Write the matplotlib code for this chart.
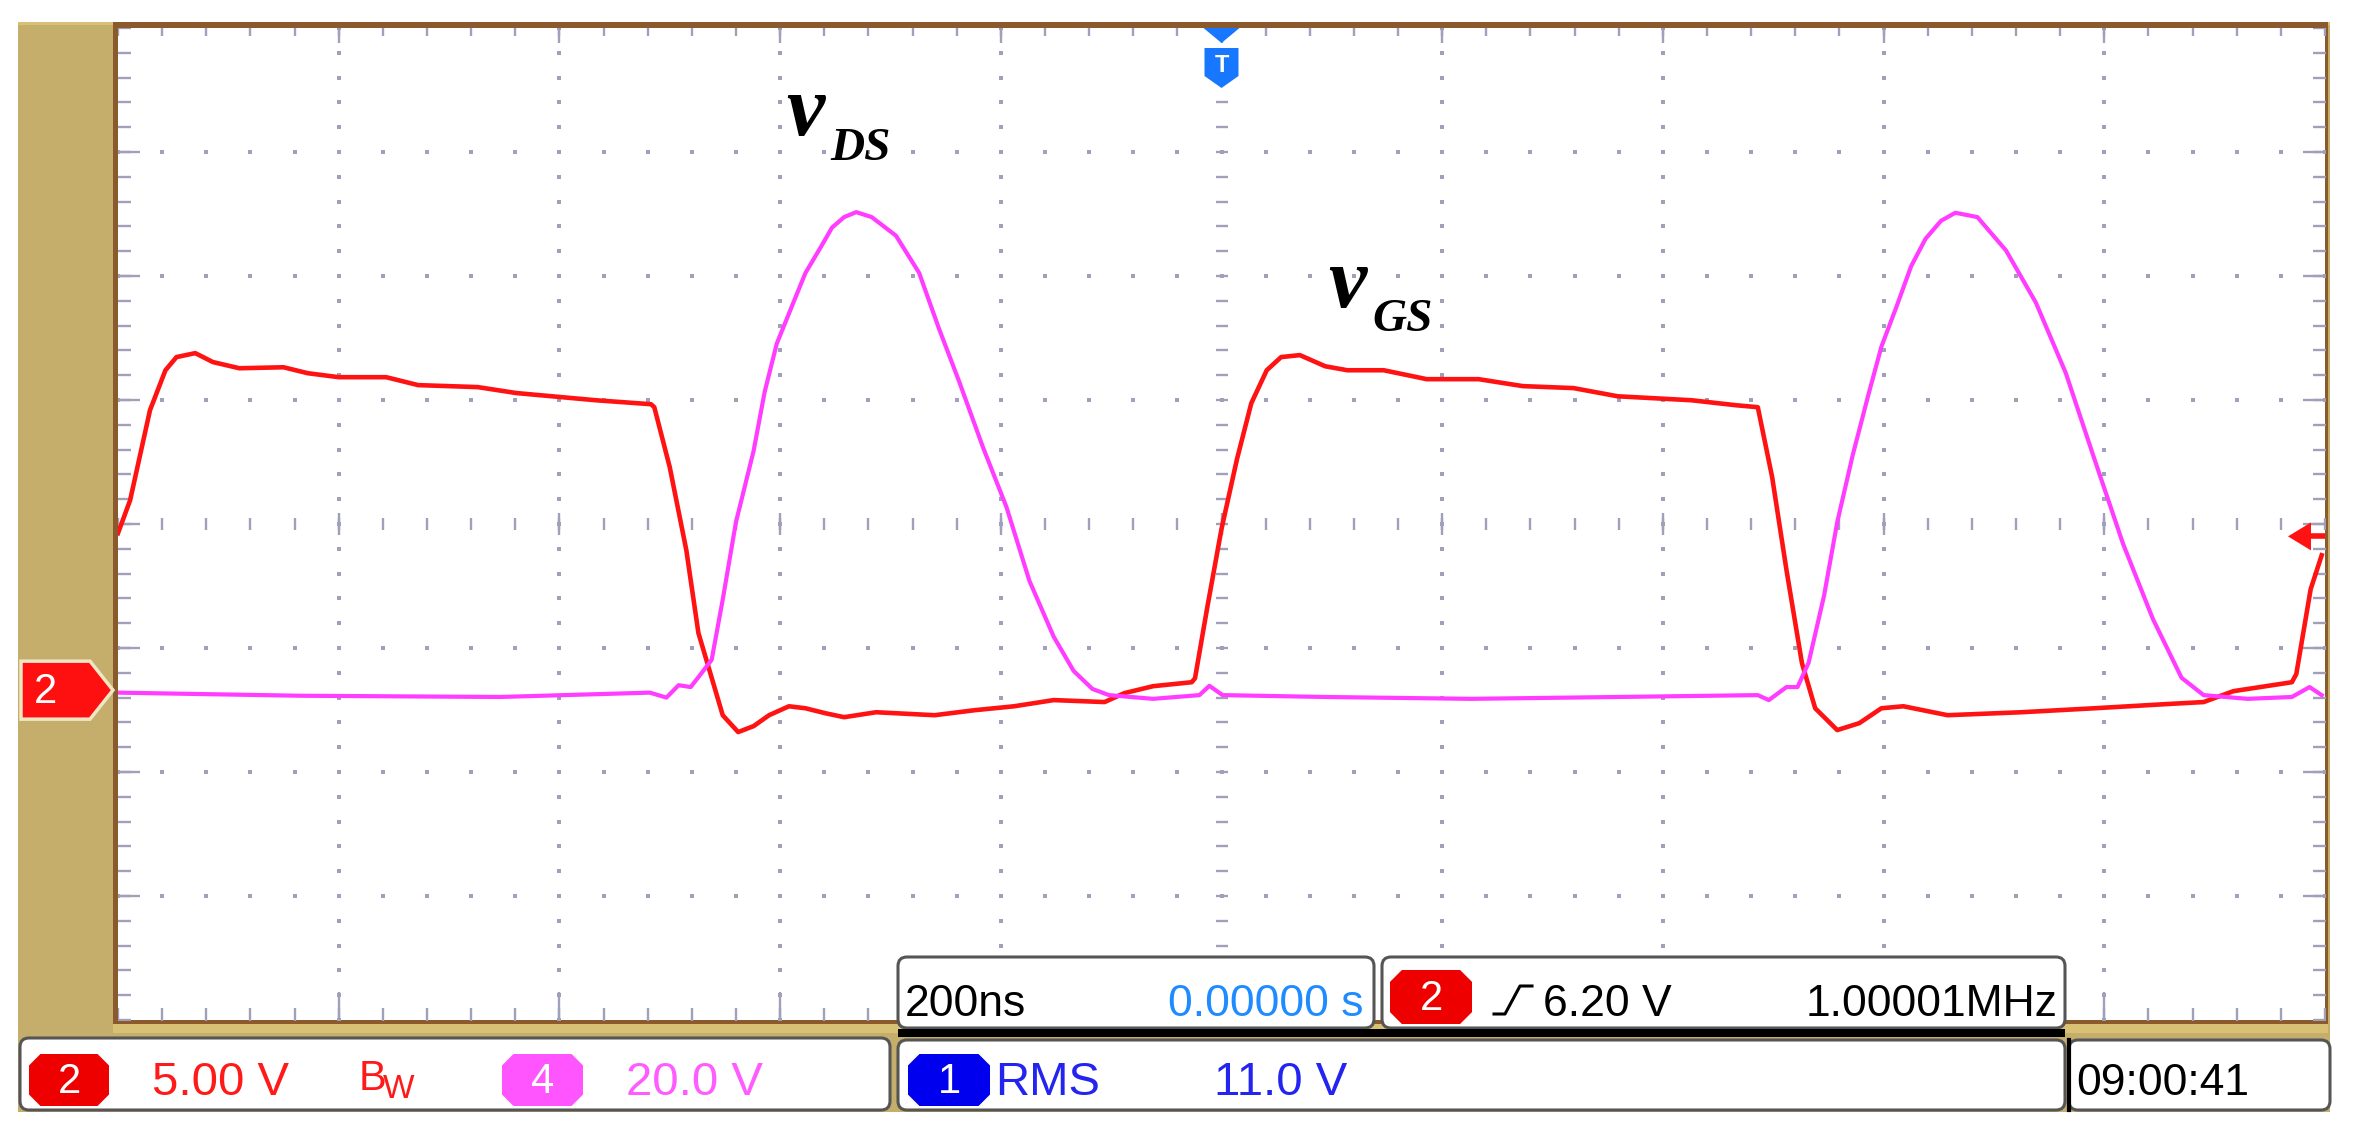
import numpy as np
import matplotlib
matplotlib.use("Agg")
import matplotlib.pyplot as plt
from matplotlib.patches import Rectangle, Polygon, FancyBboxPatch

# scope settings
time_div_ns = 200
ch2_volts_div = 5.0
ch4_volts_div = 20.0
ch2_ground_div = -1.34
ch4_ground_div = -1.37
trig_level_v = 6.2

# ch2 (red) gate-source voltage: time [ns], volts
vgs_t = [-1000, -989, -971, -957, -947, -930, -914, -890, -850, -828, -800, -757,
         -728, -674, -639, -567, -517, -514, -500, -485, -474, -463, -452, -438,
         -424, -410, -392, -377, -359, -342, -313, -260, -224, -188, -152, -106,
         -88, -62, -27, -24, -13, 0, 14, 27, 41, 54, 71, 94, 114, 147, 186, 233,
         273, 319, 359, 426, 466, 486, 499, 512, 526, 538, 558, 578, 598, 618,
         658, 725, 791, 857, 890, 917, 970, 974, 987, 997]
vgs_v = [6.33, 7.66, 11.29, 12.90, 13.43, 13.59, 13.23, 12.98, 13.02, 12.78, 12.62, 12.62,
         12.30, 12.22, 11.98, 11.69, 11.53, 11.41, 8.99, 5.65, 2.30, 0.65, -1.01, -1.69,
         -1.45, -1.01, -0.65, -0.73, -0.93, -1.09, -0.89, -1.01, -0.81, -0.65, -0.40, -0.48,
         -0.12, 0.16, 0.32, 0.48, 3.31, 6.50, 9.31, 11.57, 12.90, 13.43, 13.51, 13.06, 12.90,
         12.90, 12.54, 12.54, 12.26, 12.18, 11.85, 11.69, 11.49, 11.41, 8.59, 4.84, 1.09,
         -0.73, -1.61, -1.33, -0.73, -0.65, -1.01, -0.89, -0.73, -0.56, -0.48, -0.04, 0.32,
         0.65, 4.07, 5.44]

# ch4 (pink) drain-source voltage: time [ns], volts
vds_t = [-1000, -835, -654, -518, -503, -492, -481, -471, -462, -452, -440, -424,
         -414, -403, -388, -377, -363, -353, -342, -331, -317, -295, -274, -256,
         -238, -216, -195, -174, -152, -134, -117, -102, -62, -20, -11, 1, 94, 226,
         359, 486, 496, 512, 522, 532, 546, 558, 572, 586, 598, 612, 625, 638, 652,
         665, 685, 711, 738, 765, 791, 817, 844, 870, 890, 930, 970, 986, 997]
vds_v = [0.2, -0.3, -0.5, 0.2, -0.6, 1.4, 1.1, 3.4, 5.5, 15.2, 27.7, 39.2,
         48.7, 56.5, 63.1, 67.9, 72.1, 75.2, 76.9, 77.7, 76.9, 73.9, 67.9, 58.9,
         50.5, 39.7, 30.2, 18.2, 9.2, 3.7, 0.8, -0.2, -0.8, -0.2, 1.3, -0.2, -0.5, -0.8,
         -0.5, -0.2, -1.0, 1.1, 1.1, 5.0, 15.8, 27.7, 38.5, 48.1, 56.0, 62.6, 69.0, 73.4, 76.3,
         77.6, 76.9, 71.5, 63.1, 51.8, 37.9, 24.2, 12.1, 2.6, -0.2, -0.8, -0.5, 1.1, -0.2]

W, H = 2355, 1146
SX0, SX1, SY0, SY1 = 118, 2325, 28, 1020   # screen area in pixels

TAN = '#C5AD6B'
GOLD = '#D8C075'
BROWN = '#8A5A2C'
GRID = '#A0A0BA'
RED = '#FF1212'
PINK = '#FF3CFF'
BADGE_RED = '#EE0000'
BADGE_PINK = '#FF55FF'
BADGE_BLUE = '#0000EE'
FONT = ['Liberation Sans Narrow', 'Liberation Sans', 'DejaVu Sans']


def py(div):
    return SY0 + (4 - div) * (SY1 - SY0) / 8.0


def px(t):
    return SX0 + (t + 5 * time_div_ns) / (10 * time_div_ns) * (SX1 - SX0)


def badge(ax, x0, y0, x1, y1, color, label, size=26):
    c = 0.22 * (y1 - y0)
    pts = [(x0 + c, y0), (x1 - c, y0), (x1, y0 + c), (x1, y1 - c),
           (x1 - c, y1), (x0 + c, y1), (x0, y1 - c), (x0, y0 + c)]
    ax.add_patch(Polygon(pts, closed=True, fc=color, ec='none'))
    ax.text((x0 + x1) / 2, (y0 + y1) / 2 + 2, label, color='white', fontsize=size,
            ha='center', va='center', family=FONT)


def box(ax, x0, y0, x1, y1):
    ax.add_patch(FancyBboxPatch((x0, y0), x1 - x0, y1 - y0,
                                boxstyle='round,pad=0,rounding_size=9',
                                fc='white', ec='#555555', lw=2.2))


fig = plt.figure(figsize=(W / 100, H / 100), dpi=100)
fig.patch.set_facecolor('white')

# background / bezel
bg = fig.add_axes([0, 0, 1, 1])
bg.set_xlim(0, W)
bg.set_ylim(H, 0)
bg.axis('off')
bg.add_patch(Rectangle((18, 22), 2312, 1090, fc=TAN, ec='none'))
bg.add_patch(Rectangle((18, 22), 2312, 3, fc=GOLD, ec='none'))
bg.add_patch(Rectangle((SX0 - 5, SY0 - 6), SX1 - SX0 + 8, SY1 - SY0 + 10, fc=BROWN, ec='none'))
bg.add_patch(Rectangle((SX0, SY0), SX1 - SX0, SY1 - SY0, fc='white', ec='none'))
bg.add_patch(Rectangle((SX0 - 5, SY1 + 4), SX1 - SX0 + 8, 9, fc=GOLD, ec='none'))

# scope screen
scr = fig.add_axes([SX0 / W, 1 - SY1 / H, (SX1 - SX0) / W, (SY1 - SY0) / H])
scr.set_xlim(-5 * time_div_ns, 5 * time_div_ns)
scr.set_ylim(-4, 4)
scr.axis('off')

minor_x = np.arange(-5 * time_div_ns, 5 * time_div_ns + 1, time_div_ns / 5)
minor_y = np.round(np.arange(-4, 4.01, 0.2), 2)
major_x = np.arange(-4, 5) * time_div_ns
major_y = np.arange(-3, 4)

for xm in major_x:
    if xm != 0:
        scr.plot(np.full(len(minor_y), xm), minor_y, ls='none', marker='s',
                 ms=2.4, mew=0, color=GRID)
for ym in major_y:
    if ym != 0:
        scr.plot(minor_x, np.full(len(minor_x), ym), ls='none', marker='s',
                 ms=2.4, mew=0, color=GRID)
# centre axes
scr.plot(np.zeros(len(minor_y)), minor_y, ls='none', marker='_', ms=9, mew=1.7, color=GRID)
scr.plot(minor_x, np.zeros(len(minor_x)), ls='none', marker='|', ms=9, mew=1.7, color=GRID)
scr.plot(major_x, np.zeros(len(major_x)), ls='none', marker='|', ms=16, mew=1.7, color=GRID)
# border ticks
for xb in (-5 * time_div_ns, 5 * time_div_ns):
    scr.plot(np.full(len(minor_y), xb), minor_y, ls='none', marker='_', ms=18, mew=1.7, color=GRID)
    scr.plot(np.full(len(major_y), xb), major_y, ls='none', marker='_', ms=32, mew=1.7, color=GRID)
scr.plot(minor_x, np.full(len(minor_x), -4), ls='none', marker='|', ms=18, mew=1.7, color=GRID)
scr.plot(major_x, np.full(len(major_x), -4), ls='none', marker='|', ms=40, mew=1.7, color=GRID)
scr.plot(minor_x, np.full(len(minor_x), 4), ls='none', marker='|', ms=12, mew=1.7, color=GRID)
scr.plot(major_x, np.full(len(major_x), 4), ls='none', marker='|', ms=22, mew=1.7, color=GRID)

# traces
scr.plot(vgs_t, np.array(vgs_v) / ch2_volts_div + ch2_ground_div, color=RED, lw=3.3,
         solid_joinstyle='round', zorder=5)
scr.plot(vds_t, np.array(vds_v) / ch4_volts_div + ch4_ground_div, color=PINK, lw=3.0,
         solid_joinstyle='round', zorder=6)

# overlay: markers, labels, status bar
ov = fig.add_axes([0, 0, 1, 1], zorder=5)
ov.set_xlim(0, W)
ov.set_ylim(H, 0)
ov.axis('off')

# channel 2 ground marker
yg = py(ch2_ground_div)
ov.add_patch(Polygon([(21, yg - 29), (90, yg - 29), (113, yg), (90, yg + 29), (21, yg + 29)],
                     closed=True, fc='#FF1010', ec='#EFE6C4', lw=2.5))
ov.text(46, yg + 2, '2', color='white', fontsize=30, ha='center', va='center', family=FONT)

# trigger level arrow (right edge)
yt = py(trig_level_v / ch2_volts_div + ch2_ground_div)
ov.add_patch(Polygon([(2288, yt), (2311, yt - 14), (2311, yt + 14)], closed=True, fc=RED, ec='none'))
ov.plot([2306, SX1], [yt, yt], color=RED, lw=4, solid_capstyle='butt')

# trigger position marker (top)
xt = px(0)
ov.add_patch(Polygon([(xt - 18, SY0), (xt + 18, SY0), (xt, SY0 + 15)], closed=True,
                     fc='#1877FF', ec='none'))
ov.add_patch(Polygon([(xt - 17, 48), (xt + 17, 48), (xt + 17, 76), (xt, 88), (xt - 17, 76)],
                     closed=True, fc='#1877FF', ec='none'))
ov.text(xt, 66, 'T', color='white', fontsize=17, fontweight='bold', ha='center', va='center',
        family=FONT)

# waveform labels
serif = dict(family='Liberation Serif', fontweight='bold', fontstyle='italic', color='black')
ov.text(786, 135, 'v', fontsize=62, va='baseline', **serif)
ov.text(830, 160, 'DS', fontsize=34, va='baseline', **serif)
ov.text(1328, 307, 'v', fontsize=62, va='baseline', **serif)
ov.text(1372, 331, 'GS', fontsize=34, va='baseline', **serif)

# status row 1 (over the bottom of the screen)
box(ov, 898, 957, 1374, 1028)
box(ov, 1382, 957, 2065, 1028)
ov.add_patch(Rectangle((898, 1029), 1167, 8, fc='black', ec='none'))
ov.text(905, 1016, '200ns', fontsize=32, color='black', family=FONT, va='baseline')
ov.text(1364, 1016, '0.00000 s', fontsize=32, color='#1E8CFF', family=FONT, va='baseline',
        ha='right')
badge(ov, 1390, 970, 1472, 1024, BADGE_RED, '2', size=30)
ov.plot([1494, 1505, 1520, 1532], [1014, 1014, 986, 986], color='black', lw=2.2)
ov.text(1543, 1016, '6.20 V', fontsize=32, color='black', family=FONT, va='baseline')
ov.text(2058, 1016, '1.00001MHz', fontsize=32, color='black', family=FONT, va='baseline',
        ha='right')

# status row 2
box(ov, 20, 1038, 890, 1110)
box(ov, 898, 1040, 2065, 1110)
box(ov, 2069, 1040, 2330, 1110)
ov.plot([2069, 2069], [1040, 1110], color='black', lw=3)
badge(ov, 29, 1054, 109, 1106, BADGE_RED, '2', size=30)
ov.text(152, 1095, '5.00 V', fontsize=34, color='#FF1A1A', family=FONT, va='baseline')
ov.text(359, 1090, 'B', fontsize=30, color='#FF1A1A', family=FONT, va='baseline')
ov.text(383, 1098, 'W', fontsize=24, color='#FF1A1A', family=FONT, va='baseline')
badge(ov, 502, 1054, 583, 1106, BADGE_PINK, '4', size=30)
ov.text(626, 1095, '20.0 V', fontsize=34, color='#FF5CFF', family=FONT, va='baseline')
badge(ov, 908, 1054, 990, 1106, BADGE_BLUE, '1', size=30)
ov.text(995, 1095, 'RMS', fontsize=34, color='#2424F0', family=FONT, va='baseline')
ov.text(1214, 1095, '11.0 V', fontsize=34, color='#2424F0', family=FONT, va='baseline')
ov.text(2076, 1095, '09:00:41', fontsize=32, color='black', family=FONT, va='baseline')

fig.savefig('out.png', dpi=100)
